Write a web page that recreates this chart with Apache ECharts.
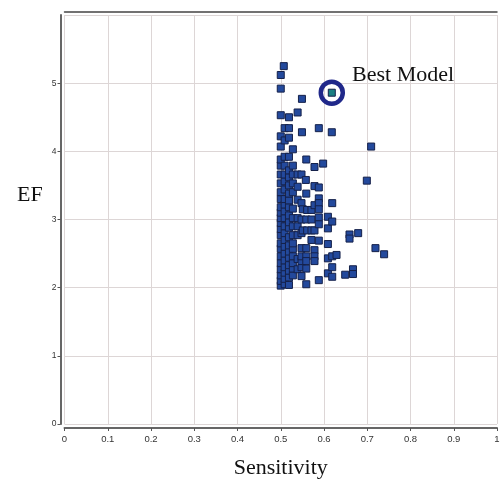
<!DOCTYPE html>
<html><head><meta charset="utf-8">
<script src="https://cdn.jsdelivr.net/npm/echarts@6/dist/echarts.min.js"></script>
<style>html,body{margin:0;padding:0;background:#fff}#c{width:500px;height:479px}</style>
</head><body><div id="c"></div>
<script>
var xTicks = ['0','0.1','0.2','0.3','0.4','0.5','0.6','0.7','0.8','0.9','1'];
var yTicks = ['0','1','2','3','4','5'];
var xTitle = 'Sensitivity';
var yTitle = 'EF';
var sensitivity = [
 0.500,0.500,0.500,0.500,0.500,0.500,0.500,0.500,0.500,0.500,0.500,0.500,0.500,0.500,0.500,0.500,0.500,0.500,0.500,0.500,0.500,0.500,0.500,0.500,0.500,
 0.509,0.509,0.509,0.509,0.509,0.509,0.509,0.509,0.509,0.509,0.509,0.509,0.509,0.509,0.509,0.509,0.509,0.509,0.509,0.509,0.509,0.507,
 0.519,0.519,0.519,0.519,0.519,0.519,0.519,0.519,0.519,0.519,0.519,0.519,0.519,0.519,0.519,0.519,0.519,0.519,0.519,0.519,0.519,
 0.528,0.528,0.528,0.528,0.528,0.528,0.528,0.528,0.528,0.528,0.528,0.528,0.528,0.528,0.528,
 0.539,0.539,0.539,0.539,0.539,0.539,0.539,0.539,0.539,
 0.548,0.548,0.548,0.548,0.548,0.548,0.548,0.548,0.548,0.549,0.549,
 0.551,0.559,0.558,0.559,0.559,0.559,0.559,0.559,0.559,0.559,0.561,0.551,0.561,
 0.571,0.571,0.571,0.571,
 0.578,0.578,0.578,0.578,0.578,0.578,0.578,
 0.588,0.588,0.588,0.588,0.588,0.588,0.588,0.588,0.588,
 0.598,
 0.609,0.609,0.609,0.609,0.609,
 0.618,0.619,0.619,0.619,0.629,0.619,0.619,
 0.649,0.659,0.659,0.667,0.667,0.679,
 0.699,0.709,0.719,0.739
];
var ef = [
 2.03,2.10,2.18,2.27,2.36,2.46,2.57,2.65,2.77,2.86,2.95,3.02,3.10,3.18,3.30,3.40,3.53,3.66,3.79,3.88,4.07,4.22,4.53,4.92,5.12,
 2.05,2.13,2.22,2.30,2.40,2.50,2.60,2.70,2.80,2.90,3.02,3.12,3.22,3.30,3.44,3.56,3.66,3.79,3.92,4.16,4.34,5.25,
 2.04,2.15,2.25,2.33,2.44,2.53,2.62,2.74,2.88,2.96,3.06,3.18,3.28,3.38,3.50,3.62,3.72,3.92,4.20,4.34,4.50,
 2.18,2.28,2.36,2.46,2.57,2.65,2.77,2.90,3.02,3.16,3.40,3.53,3.66,3.79,4.03,
 2.27,2.42,2.77,2.90,3.02,3.29,3.48,3.66,4.57,
 2.17,2.30,2.39,2.46,2.58,2.80,3.00,3.24,3.66,4.28,4.77,
 3.15,3.88,3.58,3.38,3.00,2.58,2.46,2.39,2.28,2.05,3.14,2.84,2.84,
 3.14,3.00,2.84,2.70,
 3.77,3.49,3.21,2.84,2.55,2.46,2.39,
 4.34,3.47,3.31,3.24,3.15,3.03,2.93,2.69,2.11,
 3.82,
 3.04,2.87,2.64,2.43,2.21,
 4.28,3.24,2.97,2.46,2.48,2.30,2.16,
 2.19,2.78,2.72,2.27,2.20,2.80,
 3.57,4.07,2.58,2.49
];
var bestSensitivity = [0.618];
var bestEF = [4.86];
var bestLabel = ['Best Model'];

var pts = sensitivity.map(function(s,i){return [s, ef[i]];});
var best = bestSensitivity.map(function(s,i){return [s, bestEF[i]];});

var chart = echarts.init(document.getElementById('c'));
var tickFamily = 'Liberation Sans Narrow, Liberation Sans, sans-serif';
chart.setOption({
  animation: false,
  title: {text: yTitle, left: 12, top: 179,
    textStyle: {fontFamily: 'Liberation Serif, serif', fontSize: 22, fontWeight: 'normal', color: '#111'}},
  grid: {left: 64.5, right: 3, top: 15, bottom: 55, outerBoundsMode: 'none', containLabel: false},
  xAxis: [{
    type: 'value', min: 0, max: 1, interval: 0.1, offset: 4,
    name: xTitle, nameLocation: 'middle', nameGap: 29,
    nameTextStyle: {fontFamily: 'Liberation Serif, serif', fontSize: 22, color: '#111'},
    axisLine: {show: true, onZero: false, lineStyle: {color: '#666', width: 2}},
    axisTick: {show: true, length: 3, lineStyle: {color: '#555'}},
    axisLabel: {margin: 6, fontSize: 9.5, color: '#333', fontFamily: tickFamily,
      formatter: function(v){var i=Math.round(v*10);return xTicks[i]||'';}},
    splitLine: {show: true, lineStyle: {color: '#ddd6d6', width: 1}}
  },{
    type: 'value', position: 'top', min: 0, max: 1, offset: 3,
    axisLine: {show: true, onZero: false, lineStyle: {color: '#444', width: 1.5}},
    axisTick: {show: false}, axisLabel: {show: false}, splitLine: {show: false}
  }],
  yAxis: {
    type: 'value', min: 0, max: 6, interval: 1, offset: 4,
    axisLine: {show: true, onZero: false, lineStyle: {color: '#666', width: 2}},
    axisTick: {show: true, length: 3, lineStyle: {color: '#555'}},
    axisLabel: {margin: 4, fontSize: 8.5, color: '#333', fontFamily: tickFamily, showMaxLabel: false,
      formatter: function(v){return yTicks[v]||'';}},
    splitLine: {show: true, lineStyle: {color: '#ddd6d6', width: 1}}
  },
  series: [{
    type: 'scatter', symbol: 'rect', symbolSize: 7,
    itemStyle: {color: '#23499c', borderColor: '#15214a', borderWidth: 1, opacity: 1},
    data: pts
  },{
    type: 'scatter', symbol: 'rect', symbolSize: 7,
    itemStyle: {color: '#1a7f82', borderColor: '#15214a', borderWidth: 1, opacity: 1},
    data: best
  },{
    type: 'scatter', symbol: 'circle', symbolSize: 22,
    itemStyle: {color: 'rgba(0,0,0,0)', borderColor: '#20288a', borderWidth: 4.5, opacity: 1},
    label: {show: true, position: 'right', distance: 7, offset: [0,-17],
      formatter: function(){return bestLabel[0];},
      fontFamily: 'Liberation Serif, serif', fontSize: 22, color: '#111'},
    data: best, z: 3
  }]
});
</script></body></html>
